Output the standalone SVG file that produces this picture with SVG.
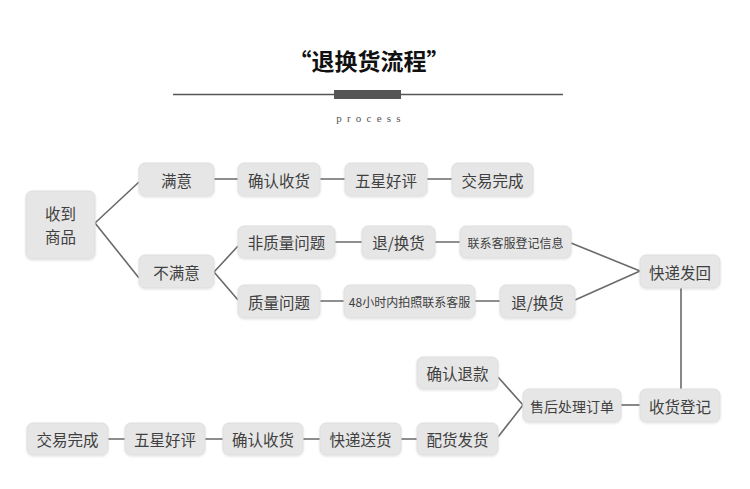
<svg xmlns="http://www.w3.org/2000/svg" width="750" height="489" viewBox="0 0 750 489">
<defs>
<filter id="sh" x="-10%" y="-10%" width="120%" height="130%">
<feGaussianBlur in="SourceAlpha" stdDeviation="1"/>
<feOffset dx="0" dy="1" result="b"/>
<feFlood flood-color="#000" flood-opacity="0.12"/>
<feComposite in2="b" operator="in"/>
<feMerge><feMergeNode/><feMergeNode in="SourceGraphic"/></feMerge>
</filter>
</defs>
<style>
.n rect{fill:#e6e6e6;stroke:#dedede;stroke-width:1;filter:url(#sh)}
.n text{font-family:"Noto Sans CJK SC","Noto Sans",sans-serif;font-size:15.5px;fill:#404040;text-anchor:middle;dominant-baseline:central}
.n text.s{font-size:12px}
.n text.m{font-size:14px}
.c path{fill:none;stroke:#6a6a6a;stroke-width:1.6}
</style>
<rect width="750" height="489" fill="#fff"/>
<g id="title">
<text x="369" y="70" font-family="'Noto Sans CJK SC',serif" font-weight="bold" font-size="23" fill="#111" text-anchor="middle">“退换货流程”</text>
<line x1="173" y1="94.5" x2="563" y2="94.5" stroke="#555" stroke-width="1.3"/>
<rect x="334" y="90" width="67" height="9" fill="#555"/>
<text x="371" y="122" font-family="'Liberation Serif',serif" font-size="11" letter-spacing="5.2" fill="#555" text-anchor="middle">process</text>
</g>
<g class="c" id="connectors">
<path d="M95,223 L139,182 M95,223 L139,278"/>
<path d="M214,179 H238 M320,179 H345 M427,179 H452"/>
<path d="M214,272 L238,246 M214,272 L238,300"/>
<path d="M335,242 H362 M435,242 H460"/>
<path d="M320,301 H344 M475,301 H500"/>
<path d="M571,243 L640,271 M575,300 L640,271"/>
<path d="M681,288 V389"/>
<path d="M621,405 H640"/>
<path d="M498,377 L523,405 M498,437 L523,405"/>
<path d="M108,439 H125 M205,439 H223 M303,439 H320 M401,439 H417"/>
</g>
<g class="n" id="n-receive"><rect x="26" y="191" width="69" height="68" rx="6"/><text x="60.5" y="213">收到</text><text x="60.5" y="236">商品</text></g>
<g class="n" id="n-satisfied"><rect x="139" y="163" width="75" height="33" rx="6"/><text x="176.5" y="179.5">满意</text></g>
<g class="n" id="n-unsatisfied"><rect x="139" y="255" width="75" height="33" rx="6"/><text x="176.5" y="271.5">不满意</text></g>
<g class="n" id="n-confirm1"><rect x="238" y="163" width="82" height="33" rx="6"/><text x="279" y="179.5">确认收货</text></g>
<g class="n" id="n-star1"><rect x="345" y="163" width="82" height="33" rx="6"/><text x="386" y="179.5">五星好评</text></g>
<g class="n" id="n-done1"><rect x="452" y="163" width="81" height="33" rx="6"/><text x="492.5" y="179.5">交易完成</text></g>
<g class="n" id="n-nonquality"><rect x="238" y="226" width="97" height="32" rx="6"/><text x="286.5" y="242">非质量问题</text></g>
<g class="n" id="n-return1"><rect x="362" y="226" width="73" height="32" rx="6"/><text x="398.5" y="242">退/换货</text></g>
<g class="n" id="n-contact1"><rect x="460" y="226" width="111" height="32" rx="6"/><text class="s" x="515.5" y="242">联系客服登记信息</text></g>
<g class="n" id="n-quality"><rect x="238" y="285" width="82" height="33" rx="6"/><text x="279" y="301.5">质量问题</text></g>
<g class="n" id="n-photo"><rect x="344" y="285" width="131" height="33" rx="6"/><text class="s" x="409.5" y="301.5">48小时内拍照联系客服</text></g>
<g class="n" id="n-return2"><rect x="500" y="285" width="75" height="33" rx="6"/><text x="537.5" y="301.5">退/换货</text></g>
<g class="n" id="n-sendback"><rect x="640" y="255" width="80" height="33" rx="6"/><text x="680" y="271.5">快递发回</text></g>
<g class="n" id="n-register"><rect x="640" y="389" width="80" height="33" rx="6"/><text x="680" y="405.5">收货登记</text></g>
<g class="n" id="n-process"><rect x="523" y="389" width="98" height="33" rx="6"/><text class="m" x="572" y="405.5">售后处理订单</text></g>
<g class="n" id="n-refund"><rect x="417" y="357" width="81" height="32" rx="6"/><text x="457.5" y="373">确认退款</text></g>
<g class="n" id="n-ship"><rect x="417" y="423" width="81" height="32" rx="6"/><text x="457.5" y="439">配货发货</text></g>
<g class="n" id="n-express"><rect x="320" y="423" width="81" height="32" rx="6"/><text x="360.5" y="439">快递送货</text></g>
<g class="n" id="n-confirm2"><rect x="223" y="423" width="80" height="32" rx="6"/><text x="263" y="439">确认收货</text></g>
<g class="n" id="n-star2"><rect x="125" y="423" width="80" height="32" rx="6"/><text x="165" y="439">五星好评</text></g>
<g class="n" id="n-done2"><rect x="27" y="423" width="81" height="32" rx="6"/><text x="67.5" y="439">交易完成</text></g>
</svg>
